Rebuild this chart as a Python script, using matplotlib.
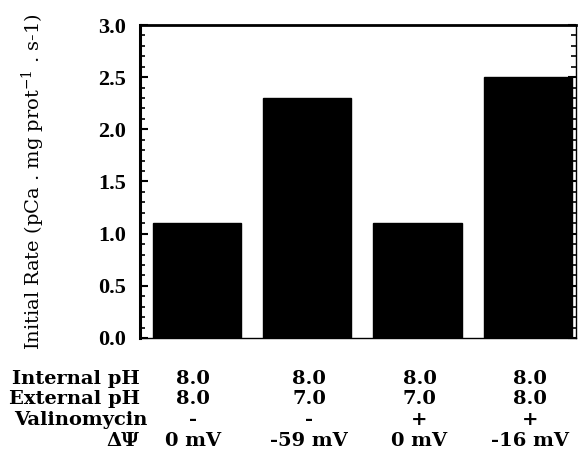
import matplotlib
matplotlib.use("Agg")
import matplotlib.pyplot as plt
from matplotlib.ticker import MultipleLocator

# Data
conditions = ["A", "B", "C", "D"]
rates = [1.1, 2.3, 1.1, 2.5]
row_labels = ["Internal pH", "External pH", "Valinomycin", "ΔΨ"]
internal_ph = ["8.0", "8.0", "8.0", "8.0"]
external_ph = ["8.0", "7.0", "7.0", "8.0"]
valinomycin = ["-", "-", "+", "+"]
delta_psi = ["0 mV", "-59 mV", "0 mV", "-16 mV"]
yticks = [0.0, 0.5, 1.0, 1.5, 2.0, 2.5, 3.0]

fig = plt.figure(figsize=(5.78, 4.63), dpi=100)
ax = fig.add_axes([0.242, 0.270, 0.755, 0.676])

x = list(range(len(conditions)))
ax.bar(x, rates, width=0.8, color="black", edgecolor="black")

ax.set_xlim(-0.518, 3.44)
ax.set_ylim(0, 3.0)
ax.set_xticks([])
ax.set_yticks(yticks)
ax.set_yticklabels([f"{v:.1f}" for v in yticks], fontfamily="Liberation Serif",
                   fontweight="bold", fontsize=16)
ax.yaxis.set_minor_locator(MultipleLocator(0.1))
ax.tick_params(axis="y", which="major", direction="in", length=6, width=1.5,
               left=True, right=True, pad=10)
ax.tick_params(axis="y", which="minor", direction="in", length=3.5, width=1.2,
               left=True, right=True)

ax.spines["left"].set_linewidth(2.2)
ax.spines["top"].set_linewidth(2.0)
ax.spines["bottom"].set_linewidth(1.0)
ax.spines["right"].set_linewidth(1.0)

ax.set_ylabel(r"Initial Rate (pCa . mg prot$^{\mathregular{-1}}$ . s-1)",
              fontfamily="DejaVu Serif", fontsize=14, labelpad=8)
ax.yaxis.set_label_coords(-(140 - 47) / 436, 0.5)

# Table below the axes
rows = [internal_ph, external_ph, valinomycin, delta_psi]
row_y = [379, 399, 420, 441]
label_right = [140, 140, 147, 139]
col_shift = [-4, 2, 2, 2]
tfont = dict(fontfamily="DejaVu Serif", fontsize=14, fontweight="bold")
for label, vals, yp, xr in zip(row_labels, rows, row_y, label_right):
    yf = 1 - yp / 463
    fig.text(xr / 578, yf, label, ha="right", va="center", **tfont)
    for xi, v, dx in zip(x, vals, col_shift):
        xd = ax.transData.transform((xi, 0))[0] + dx
        xf = fig.transFigure.inverted().transform((xd, 0))[0]
        fig.text(xf, yf, v, ha="center", va="center", **tfont)

fig.savefig("out.png", dpi=100)
